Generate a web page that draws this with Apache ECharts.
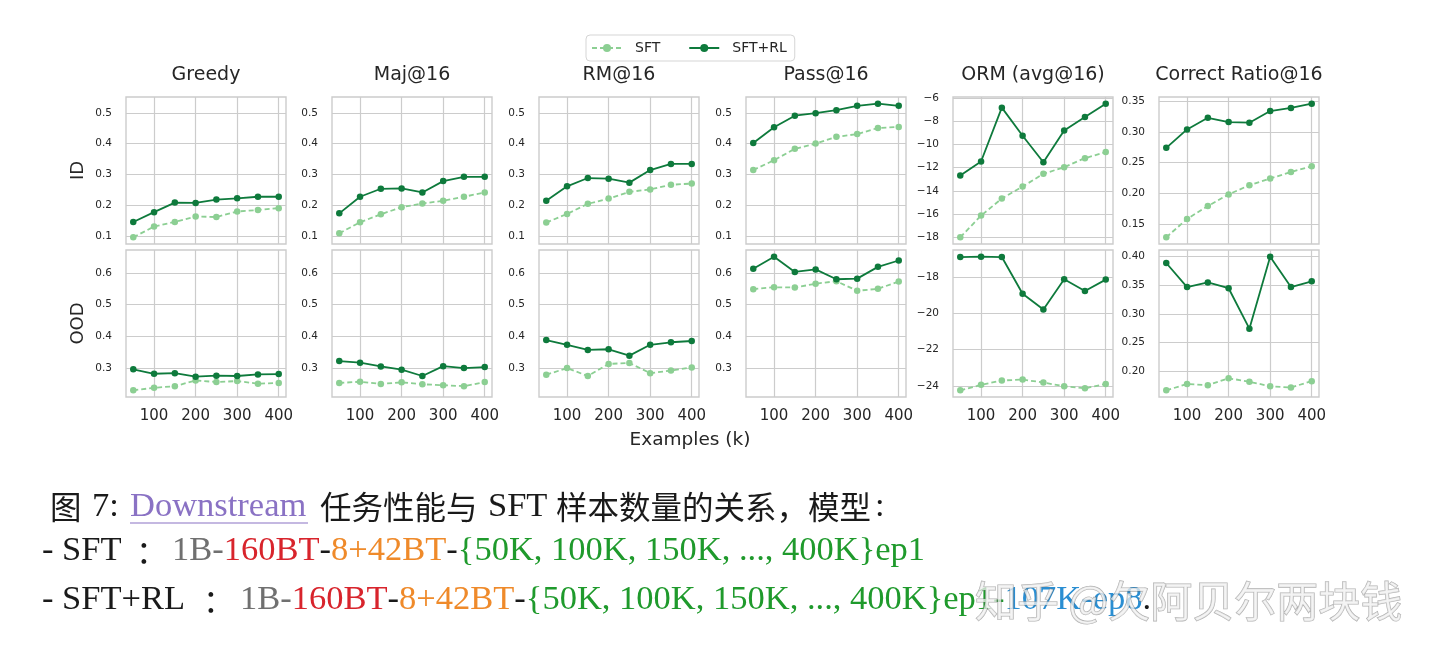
<!DOCTYPE html>
<html>
<head>
<meta charset="utf-8">
<script src="https://cdn.jsdelivr.net/npm/echarts@6/dist/echarts.min.js"></script>
<style>
html,body{margin:0;padding:0;background:#fff;}
#chart{width:1440px;height:659px;}
</style>
</head>
<body>
<div id="chart"></div>
<script>
// ---------------- data ----------------
const examples = [50, 100, 150, 200, 250, 300, 350, 400];
const metricTitles = ['Greedy', 'Maj@16', 'RM@16', 'Pass@16', 'ORM (avg@16)', 'Correct Ratio@16'];
const rowNames = ['ID', 'OOD'];
const seriesNames = ['SFT', 'SFT+RL'];
const xTickLabels = [100, 200, 300, 400];

// ID row
const greedyIdSft   = [0.095, 0.130, 0.145, 0.163, 0.161, 0.179, 0.184, 0.190];
const greedyIdRl    = [0.145, 0.177, 0.208, 0.207, 0.218, 0.222, 0.227, 0.227];
const majIdSft      = [0.108, 0.144, 0.170, 0.193, 0.205, 0.214, 0.227, 0.241];
const majIdRl       = [0.173, 0.227, 0.253, 0.254, 0.241, 0.278, 0.292, 0.292];
const rmIdSft       = [0.143, 0.171, 0.204, 0.221, 0.243, 0.251, 0.266, 0.270];
const rmIdRl        = [0.214, 0.261, 0.288, 0.286, 0.273, 0.314, 0.334, 0.334];
const passIdSft     = [0.314, 0.346, 0.383, 0.400, 0.422, 0.431, 0.451, 0.454];
const passIdRl      = [0.402, 0.453, 0.491, 0.499, 0.509, 0.523, 0.530, 0.523];
const ormIdSft      = [-18.0, -16.13, -14.66, -13.63, -12.53, -11.96, -11.18, -10.66];
const ormIdRl       = [-12.68, -11.47, -6.83, -9.25, -11.53, -8.79, -7.64, -6.49];
const ratioIdSft    = [0.128, 0.158, 0.179, 0.198, 0.213, 0.224, 0.2345, 0.244];
const ratioIdRl     = [0.274, 0.304, 0.323, 0.316, 0.315, 0.334, 0.339, 0.346];

// OOD row
const greedyOodSft  = [0.231, 0.239, 0.244, 0.262, 0.257, 0.260, 0.252, 0.254];
const greedyOodRl   = [0.297, 0.283, 0.285, 0.274, 0.277, 0.276, 0.281, 0.282];
const majOodSft     = [0.254, 0.258, 0.251, 0.256, 0.250, 0.247, 0.244, 0.257];
const majOodRl      = [0.323, 0.318, 0.306, 0.296, 0.276, 0.307, 0.301, 0.304];
const rmOodSft      = [0.280, 0.301, 0.276, 0.314, 0.317, 0.285, 0.293, 0.303];
const rmOodRl       = [0.389, 0.374, 0.358, 0.360, 0.340, 0.374, 0.382, 0.386];
const passOodSft    = [0.549, 0.555, 0.554, 0.566, 0.574, 0.544, 0.550, 0.573];
const passOodRl     = [0.613, 0.651, 0.603, 0.611, 0.580, 0.582, 0.619, 0.639];
const ormOodSft     = [-24.24, -23.94, -23.70, -23.65, -23.81, -24.02, -24.13, -23.89];
const ormOodRl      = [-16.91, -16.89, -16.91, -18.93, -19.80, -18.13, -18.78, -18.15];
const ratioOodSft   = [0.167, 0.178, 0.176, 0.188, 0.182, 0.174, 0.172, 0.183];
const ratioOodRl    = [0.389, 0.347, 0.355, 0.345, 0.2745, 0.400, 0.347, 0.357];

// y tick labels
const yTicksIdShared  = [0.1, 0.2, 0.3, 0.4, 0.5];
const yTicksOodShared = [0.3, 0.4, 0.5, 0.6];
const yTicksOrmId     = [-18, -16, -14, -12, -10, -8, -6];
const yTicksOrmOod    = [-24, -22, -20, -18];
const yTicksRatioId   = [0.15, 0.20, 0.25, 0.30, 0.35];
const yTicksRatioOod  = [0.20, 0.25, 0.30, 0.35, 0.40];

// ---------------- layout / style ----------------
const SFT_COLOR = '#8ccf93';
const RL_COLOR = '#0e7a3c';
const GRID_COLOR = '#cccccc';
const TEXT_COLOR = '#262626';
const colLefts = [126, 332, 539, 746, 953, 1159];
const plotW = 160;
const rowTops = [97, 250];
const plotH = 147;

const panelData = [
  [[greedyIdSft, greedyIdRl], [majIdSft, majIdRl], [rmIdSft, rmIdRl], [passIdSft, passIdRl], [ormIdSft, ormIdRl], [ratioIdSft, ratioIdRl]],
  [[greedyOodSft, greedyOodRl], [majOodSft, majOodRl], [rmOodSft, rmOodRl], [passOodSft, passOodRl], [ormOodSft, ormOodRl], [ratioOodSft, ratioOodRl]]
];
const panelTicks = [
  [yTicksIdShared, yTicksIdShared, yTicksIdShared, yTicksIdShared, yTicksOrmId, yTicksRatioId],
  [yTicksOodShared, yTicksOodShared, yTicksOodShared, yTicksOodShared, yTicksOrmOod, yTicksRatioOod]
];

function rangeOf(arrs) {
  let lo = Infinity, hi = -Infinity;
  arrs.forEach(a => a.forEach(v => { lo = Math.min(lo, v); hi = Math.max(hi, v); }));
  const m = (hi - lo) * 0.05;
  return [lo - m, hi + m];
}
function fmtTick(v, dec) {
  const s = Math.abs(v).toFixed(dec);
  return v < 0 ? '\u2212' + s : s;
}
const tickDecimals = [[1,1,1,1,0,2],[1,1,1,1,0,2]];

const grids = [], xAxes = [], yAxes = [], series = [];
let idx = 0;
for (let r = 0; r < 2; r++) {
  const sharedArrs = [];
  for (let c = 0; c < 4; c++) sharedArrs.push(panelData[r][c][0], panelData[r][c][1]);
  const sharedRange = rangeOf(sharedArrs);
  for (let c = 0; c < 6; c++) {
    const yr = c < 4 ? sharedRange : rangeOf(panelData[r][c]);
    grids.push({
      left: colLefts[c], top: rowTops[r], width: plotW, height: plotH,
      show: true, borderColor: GRID_COLOR, borderWidth: 1.4, backgroundColor: '#fff'
    });
    xAxes.push({
      type: 'value', gridIndex: idx, min: 32.5, max: 417.5,
      axisLine: { show: false },
      axisTick: { show: false, customValues: xTickLabels },
      axisLabel: {
        show: r === 1, customValues: xTickLabels, margin: 12,
        fontSize: 15, color: TEXT_COLOR, fontFamily: 'DejaVu Sans'
      },
      splitLine: { show: true, lineStyle: { color: GRID_COLOR, width: 1.2 } }
    });
    const dec = tickDecimals[r][c];
    yAxes.push({
      type: 'value', gridIndex: idx, min: yr[0], max: yr[1],
      axisLine: { show: false },
      axisTick: { show: false, customValues: panelTicks[r][c] },
      axisLabel: {
        customValues: panelTicks[r][c], margin: 14,
        fontSize: 10.5, color: TEXT_COLOR, fontFamily: 'DejaVu Sans',
        formatter: v => fmtTick(v, dec)
      },
      splitLine: { show: true, lineStyle: { color: GRID_COLOR, width: 1.2 } }
    });
    const [sft, rl] = panelData[r][c];
    series.push({
      name: seriesNames[0], type: 'line', xAxisIndex: idx, yAxisIndex: idx,
      data: examples.map((x, i) => [x, sft[i]]),
      symbol: 'circle', symbolSize: 6.5, showSymbol: true,
      lineStyle: { color: SFT_COLOR, width: 1.8, type: [5, 3] },
      itemStyle: { color: SFT_COLOR },
      animation: false, z: 3
    });
    series.push({
      name: seriesNames[1], type: 'line', xAxisIndex: idx, yAxisIndex: idx,
      data: examples.map((x, i) => [x, rl[i]]),
      symbol: 'circle', symbolSize: 6.5, showSymbol: true,
      lineStyle: { color: RL_COLOR, width: 1.8 },
      itemStyle: { color: RL_COLOR },
      animation: false, z: 4
    });
    idx++;
  }
}

const graphics = [];
metricTitles.forEach((t, c) => {
  graphics.push({
    type: 'text', x: colLefts[c] + plotW / 2, y: 75,
    style: { text: t, fill: TEXT_COLOR, font: '19px "DejaVu Sans"', align: 'center', verticalAlign: 'middle' }
  });
});
rowNames.forEach((t, r) => {
  graphics.push({
    type: 'text', x: 78, y: rowTops[r] + plotH / 2, rotation: Math.PI / 2,
    style: { text: t, fill: TEXT_COLOR, font: '18px "DejaVu Sans"', align: 'center', verticalAlign: 'middle' }
  });
});
graphics.push({
  type: 'text', x: 690, y: 440,
  style: { text: 'Examples (k)', fill: TEXT_COLOR, font: '18.5px "DejaVu Sans"', align: 'center', verticalAlign: 'middle' }
});

// ---------------- caption ----------------
const LAT_SIZE = 34.5, CJK_SIZE = 31.5;
const LAT = LAT_SIZE + 'px "Liberation Serif", "Noto Sans CJK SC"';
const CJK = CJK_SIZE + 'px "Noto Sans CJK SC"';
const C_BLACK = '#1a1a1a', C_PURPLE = '#8a72c4', C_GRAY = '#707070', C_RED = '#d8242c',
      C_ORANGE = '#ef8a2a', C_GREEN = '#1f9a2c', C_BLUE = '#2a8ed2';
const latRich = (fill) => ({ fill: fill, fontSize: LAT_SIZE, fontFamily: '"Liberation Serif", "Noto Sans CJK SC"' });
const capRich = { k: latRich(C_BLACK), g: latRich(C_GRAY), r: latRich(C_RED), o: latRich(C_ORANGE), b: latRich(C_BLUE) };
function cap(text, x, y, fill, font, rich) {
  const style = { text: text, fill: fill, font: font, verticalAlign: 'middle' };
  if (rich) style.rich = rich;
  graphics.push({ type: 'text', x: x, y: y, style: style });
}
// line 1
cap('图', 50, 507, C_BLACK, CJK);
cap('7:', 92, 507, C_BLACK, LAT);
cap('Downstream', 130, 507, C_PURPLE, LAT);
graphics.push({ type: 'line', shape: { x1: 130, y1: 523, x2: 308, y2: 523 }, style: { stroke: C_PURPLE, lineWidth: 1.2 } });
cap('任务性能与', 320, 507, C_BLACK, CJK);
cap('SFT', 488, 507, C_BLACK, LAT);
cap('样本数量的关系，模型', 556, 507, C_BLACK, CJK);
cap(':', 875, 507, C_BLACK, LAT);
// line 2 (plain text in base style = green; coloured pieces as rich tokens)
cap('- SFT', 42, 551, C_BLACK, LAT);
cap('：', 136, 551, C_BLACK, CJK);
cap('{g|1B-}{r|160BT}{k|-}{o|8+42BT}{k|-}{50K, 100K, 150K, ..., 400K}ep1', 172, 551, C_GREEN, LAT, capRich);
// line 3
cap('- SFT+RL', 42, 600, C_BLACK, LAT);
cap('：', 203, 600, C_BLACK, CJK);
cap('{g|1B-}{r|160BT}{k|-}{o|8+42BT}{k|-}{50K, 100K, 150K, ..., 400K}ep1-{b|107K-ep8}{k|.}', 240, 600, C_GREEN, LAT, capRich);

// watermark
graphics.push({
  type: 'text', x: 975, y: 601, z: 100,
  style: {
    text: '知乎 @欠阿贝尔两块钱', font: '42px "Noto Sans CJK SC"',
    fill: 'rgba(240,240,240,0.75)', stroke: 'rgba(110,110,110,0.55)', lineWidth: 1.2,
    verticalAlign: 'middle'
  }
});

const chart = echarts.init(document.getElementById('chart'), null, { renderer: 'canvas' });
chart.setOption({
  backgroundColor: '#ffffff',
  animation: false,
  textStyle: { fontFamily: 'DejaVu Sans' },
  legend: {
    left: 586, top: 35,
    data: seriesNames,
    itemWidth: 30, itemHeight: 10, itemGap: 28,
    padding: [6, 8, 6, 5],
    borderColor: '#d5d5d5', borderWidth: 1, borderRadius: 4,
    backgroundColor: '#fff',
    textStyle: { fontSize: 14, color: TEXT_COLOR, fontFamily: 'DejaVu Sans', padding: [0, 0, 0, 8] }
  },
  grid: grids,
  xAxis: xAxes,
  yAxis: yAxes,
  series: series,
  graphic: graphics
});
</script>
</body>
</html>
